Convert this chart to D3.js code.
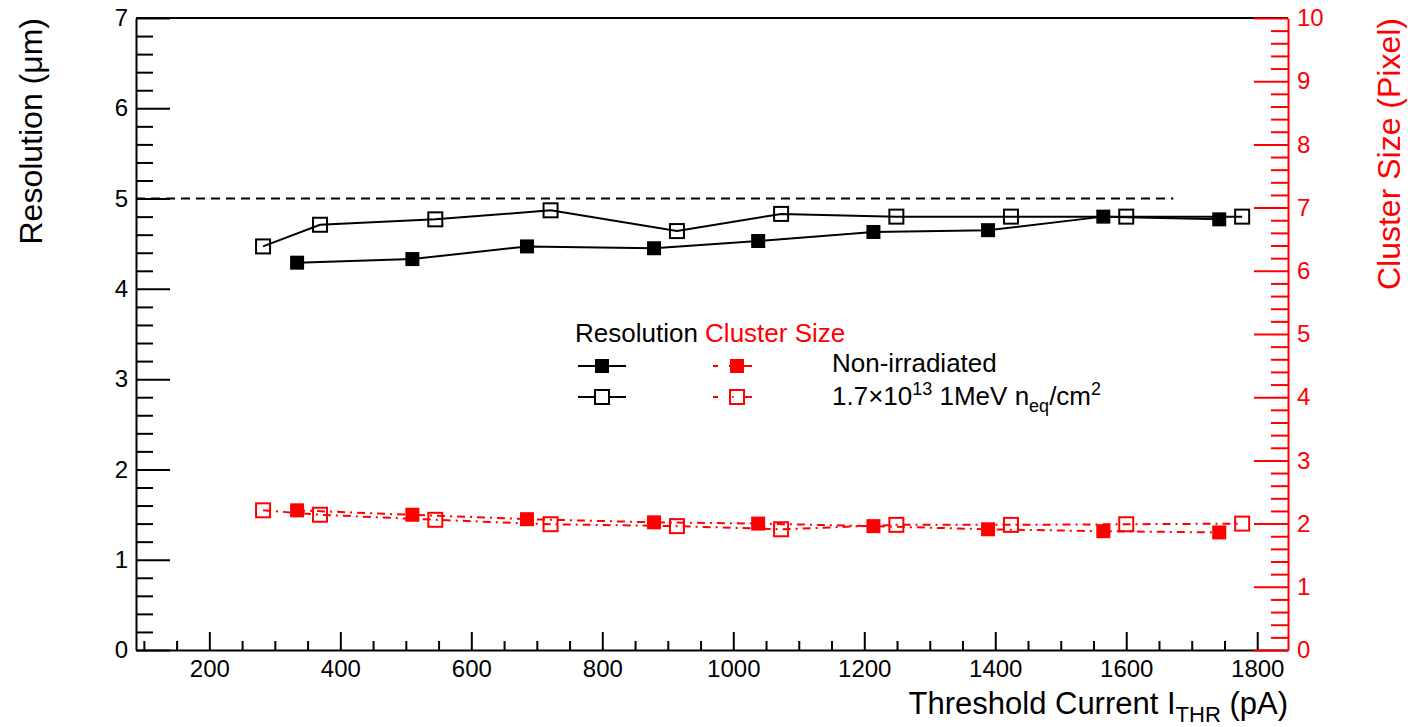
<!DOCTYPE html>
<html>
<head>
<meta charset="utf-8">
<script src="https://cdn.jsdelivr.net/npm/d3@7"></script>
<style>
  body { margin: 0; background: #fff; }
  text { font-family: "Liberation Sans", Helvetica, Arial, sans-serif; }
</style>
</head>
<body>
<svg width="1408" height="727"></svg>
<script>
// threshold currents (pA)
const thrFilled = [334, 510, 685, 879, 1038, 1214, 1389, 1565, 1742];
const thrOpen = [282, 369, 545, 721, 914, 1073, 1249, 1424, 1600, 1777];
// resolution (um)
const resFilled = [4.29, 4.33, 4.47, 4.45, 4.53, 4.63, 4.65, 4.80, 4.77];
const resOpen = [4.47, 4.71, 4.77, 4.87, 4.64, 4.83, 4.80, 4.80, 4.80, 4.80];
// cluster size (pixel)
const csFilled = [2.21, 2.14, 2.07, 2.02, 2.00, 1.96, 1.91, 1.88, 1.86];
const csOpen = [2.21, 2.14, 2.06, 1.99, 1.96, 1.91, 1.98, 1.98, 1.99, 2.00];

const xTicks = [200, 400, 600, 800, 1000, 1200, 1400, 1600, 1800];
const yLeftTicks = [0, 1, 2, 3, 4, 5, 6, 7];
const yRightTicks = [0, 1, 2, 3, 4, 5, 6, 7, 8, 9, 10];
const refLevel = 5;

const svg = d3.select('svg');
const frame = { left: 136, right: 1288, top: 18, bottom: 650 };

const x = d3.scaleLinear().domain([88, 1847]).range([frame.left, frame.right]);
const yL = d3.scaleLinear().domain([0, 7]).range([frame.bottom, frame.top]);
const yR = d3.scaleLinear().domain([0, 10]).range([frame.bottom, frame.top]);

const RED = '#ff0000';
const fmt = d3.format('d');

// minor tick values
const xMinor = d3.range(100, 1847, 50).filter(v => v % 200 !== 0);
const yLMinor = d3.range(0, 7.001, 0.2).filter(v => Math.abs(v - Math.round(v)) > 1e-6);
const yRMinor = d3.range(0, 10.001, 0.2).filter(v => Math.abs(v - Math.round(v)) > 1e-6);

function styleAxis(g, color) {
  g.selectAll('path.domain').attr('stroke', color).attr('stroke-width', 2);
  g.selectAll('.tick line').attr('stroke', color).attr('stroke-width', 2);
  g.selectAll('.tick text').attr('fill', color).style('font-size', '24px')
    .style('font-family', '"Liberation Sans", Helvetica, Arial, sans-serif');
}

// top frame line
svg.append('line')
  .attr('x1', frame.left).attr('x2', frame.right)
  .attr('y1', frame.top).attr('y2', frame.top)
  .attr('stroke', '#000').attr('stroke-width', 2);

// bottom axis
const gx = svg.append('g').attr('transform', `translate(0,${frame.bottom})`)
  .call(d3.axisBottom(x).tickValues(xTicks).tickFormat(fmt).tickSizeInner(-18).tickSizeOuter(0).tickPadding(10));
styleAxis(gx, '#000');
const gxm = svg.append('g').attr('transform', `translate(0,${frame.bottom})`)
  .call(d3.axisBottom(x).tickValues(xMinor).tickSizeInner(-9).tickSizeOuter(0).tickFormat(''));
styleAxis(gxm, '#000');
gxm.select('path.domain').remove();

// left axis
const gy = svg.append('g').attr('transform', `translate(${frame.left},0)`)
  .call(d3.axisLeft(yL).tickValues(yLeftTicks).tickFormat(fmt).tickSizeInner(-34).tickSizeOuter(0).tickPadding(8));
styleAxis(gy, '#000');
const gym = svg.append('g').attr('transform', `translate(${frame.left},0)`)
  .call(d3.axisLeft(yL).tickValues(yLMinor).tickSizeInner(-17).tickSizeOuter(0).tickFormat(''));
styleAxis(gym, '#000');
gym.select('path.domain').remove();

// right axis (cluster size)
const gr = svg.append('g').attr('transform', `translate(${frame.right},0)`)
  .call(d3.axisRight(yR).tickValues(yRightTicks).tickFormat(fmt).tickSizeInner(-34).tickSizeOuter(0).tickPadding(9));
styleAxis(gr, RED);
const grm = svg.append('g').attr('transform', `translate(${frame.right},0)`)
  .call(d3.axisRight(yR).tickValues(yRMinor).tickSizeInner(-17).tickSizeOuter(0).tickFormat(''));
styleAxis(grm, RED);
grm.select('path.domain').remove();

// axis titles
const xt = svg.append('text')
  .attr('x', frame.right).attr('y', 714)
  .attr('text-anchor', 'end')
  .style('font-size', '31px');
xt.append('tspan').text('Threshold Current I');
xt.append('tspan').attr('dy', 8).style('font-size', '22px').text('THR');
xt.append('tspan').attr('dy', -8).text(' (pA)');

svg.append('text')
  .attr('transform', `translate(42,${frame.top}) rotate(-90)`)
  .attr('text-anchor', 'end')
  .style('font-size', '32px')
  .text('Resolution (\u03bcm)');

svg.append('text')
  .attr('transform', `translate(1400,${frame.top}) rotate(-90)`)
  .attr('text-anchor', 'end')
  .attr('fill', RED)
  .style('font-size', '32px')
  .text('Cluster Size (Pixel)');

// reference line at 5 um
svg.append('line')
  .attr('x1', x(88)).attr('x2', x(1672))
  .attr('y1', yL(refLevel)).attr('y2', yL(refLevel))
  .attr('stroke', '#000').attr('stroke-width', 2)
  .attr('stroke-dasharray', '9,6');

// series helpers
function drawSeries(xs, ys, yScale, color, filled, dash) {
  const pts = xs.map((v, i) => [x(v), yScale(ys[i])]);
  svg.append('path')
    .attr('d', d3.line()(pts))
    .attr('fill', 'none')
    .attr('stroke', color)
    .attr('stroke-width', 2)
    .attr('stroke-dasharray', dash || null);
  const s = 14;
  svg.append('g').selectAll('rect').data(pts).join('rect')
    .attr('x', d => d[0] - s / 2).attr('y', d => d[1] - s / 2)
    .attr('width', s).attr('height', s)
    .attr('fill', filled ? color : 'none')
    .attr('stroke', filled ? 'none' : color)
    .attr('stroke-width', 2);
}

const dashDot = '8,5,2,5';
drawSeries(thrOpen, csOpen, yR, RED, false, dashDot);
drawSeries(thrFilled, csFilled, yR, RED, true, dashDot);
drawSeries(thrOpen, resOpen, yL, '#000', false, null);
drawSeries(thrFilled, resFilled, yL, '#000', true, null);

// legend
const lg = svg.append('g');
const head = lg.append('text').attr('x', 575).attr('y', 342).style('font-size', '26px');
head.append('tspan').attr('fill', '#000').text('Resolution ');
head.append('tspan').attr('fill', RED).text('Cluster Size');

const legendRows = [
  { y: 366, filled: true },
  { y: 397, filled: false }
];
legendRows.forEach(r => {
  lg.append('line').attr('x1', 578).attr('x2', 626).attr('y1', r.y).attr('y2', r.y)
    .attr('stroke', '#000').attr('stroke-width', 2);
  lg.append('rect').attr('x', 602 - 7).attr('y', r.y - 7).attr('width', 14).attr('height', 14)
    .attr('fill', r.filled ? '#000' : '#fff').attr('stroke', r.filled ? 'none' : '#000').attr('stroke-width', 2);
  lg.append('line').attr('x1', 713).attr('x2', 752).attr('y1', r.y).attr('y2', r.y)
    .attr('stroke', RED).attr('stroke-width', 2).attr('stroke-dasharray', '5,11,30');
  lg.append('rect').attr('x', 737 - 7).attr('y', r.y - 7).attr('width', 14).attr('height', 14)
    .attr('fill', r.filled ? RED : '#fff').attr('stroke', r.filled ? 'none' : RED).attr('stroke-width', 2);
});
lg.append('circle').attr('cx', 733).attr('cy', 397).attr('r', 1).attr('fill', RED);

lg.append('text').attr('x', 832).attr('y', 372).style('font-size', '26px').text('Non-irradiated');
const l2 = lg.append('text').attr('x', 832).attr('y', 405).style('font-size', '26px');
l2.append('tspan').text('1.7\u00d710');
l2.append('tspan').attr('dy', -10).style('font-size', '18px').text('13');
l2.append('tspan').attr('dy', 10).text(' 1MeV n');
l2.append('tspan').attr('dy', 7).style('font-size', '18px').text('eq');
l2.append('tspan').attr('dy', -7).text('/cm');
l2.append('tspan').attr('dy', -10).style('font-size', '18px').text('2');
</script>
</body>
</html>
